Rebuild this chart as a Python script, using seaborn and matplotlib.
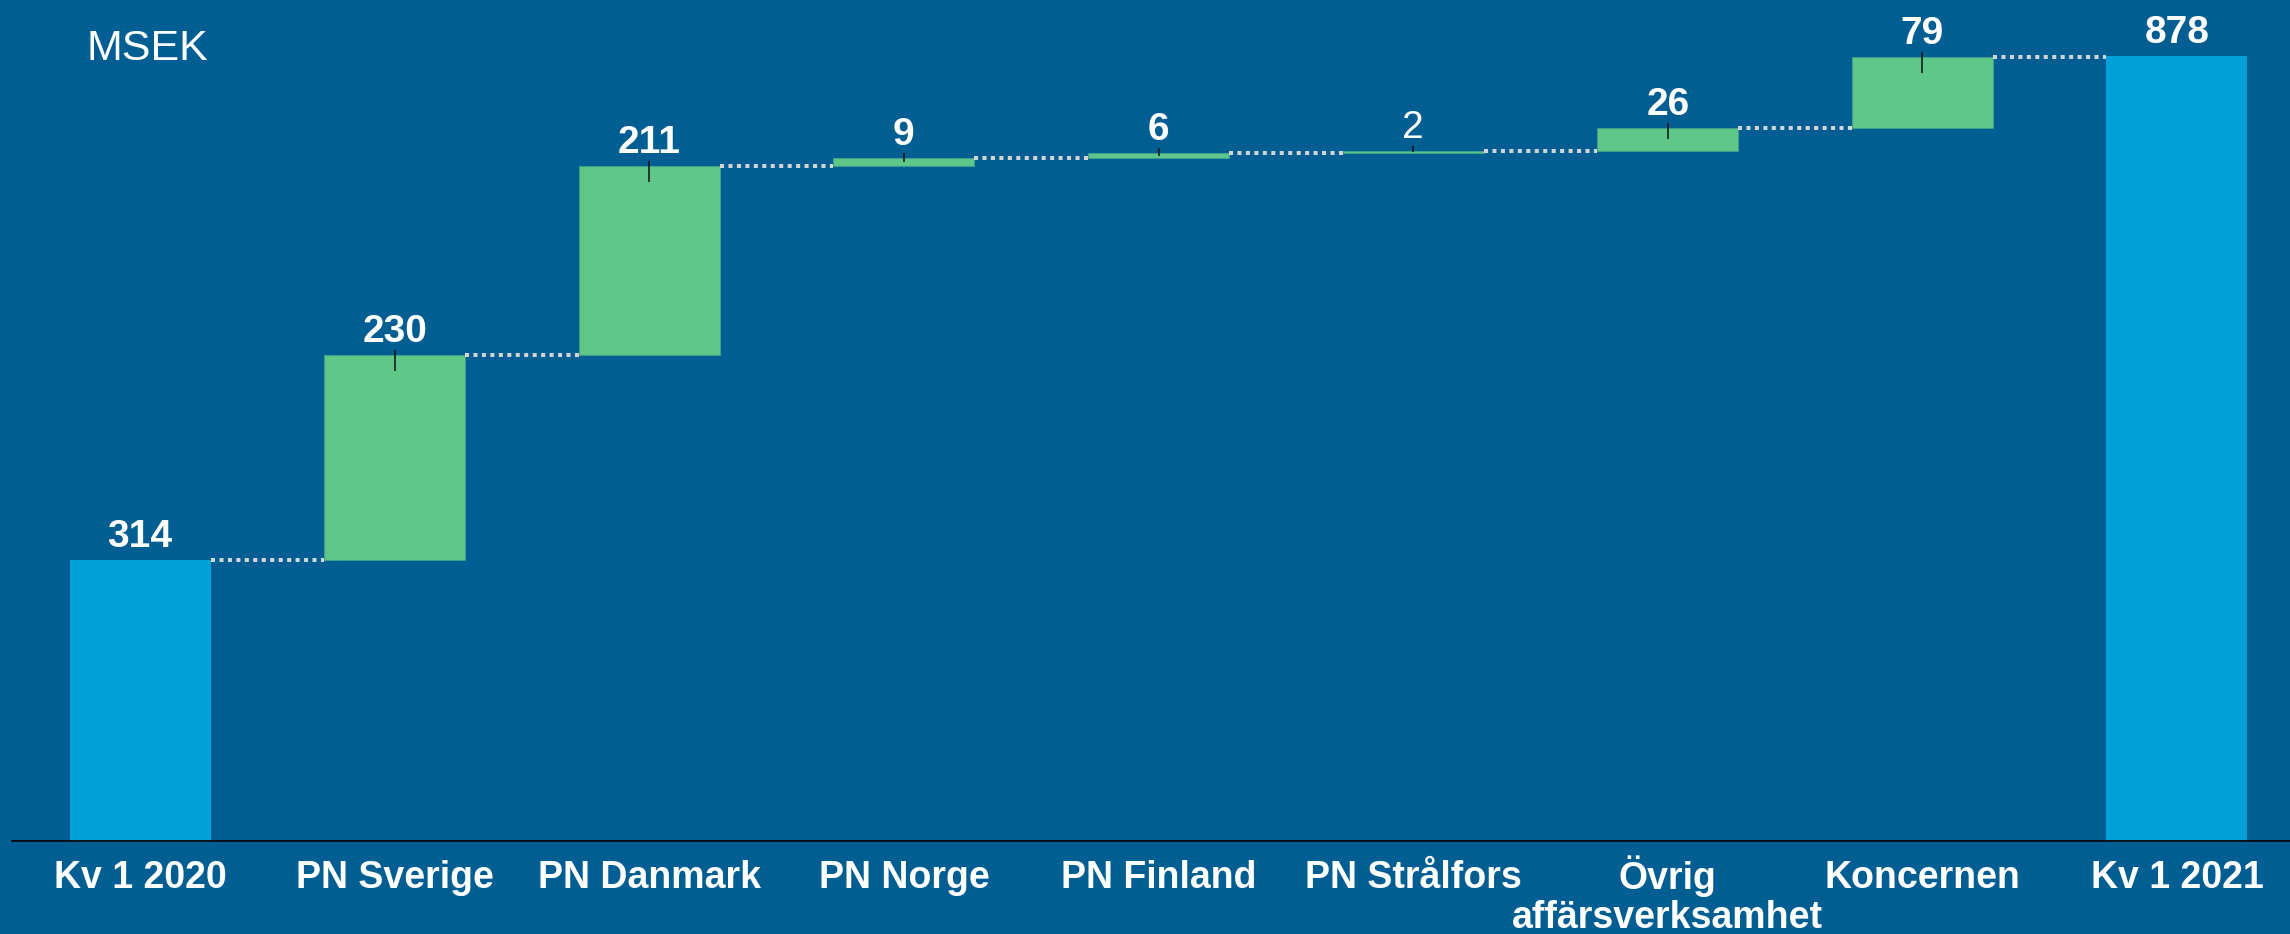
import numpy as np
import pandas as pd
import matplotlib
matplotlib.use('Agg')
import matplotlib.pyplot as plt
import matplotlib.transforms as mtransforms
import seaborn as sns

# waterfall: quarterly result bridge, MSEK
categories = ['Kv 1 2020', 'PN Sverige', 'PN Danmark', 'PN Norge', 'PN Finland',
              'PN Strålfors', 'Övrig\naffärsverksamhet', 'Koncernen', 'Kv 1 2021']
start_value = 314
end_value = 878
delta_names = categories[1:-1]
delta_values = [230, 211, 9, 6, 2, 26, 79]
label_bold = [True, True, True, True, True, False, True, True, True]

bg = '#005E93'
total_color = '#00A0D8'
delta_color = '#5FC787'

plt.rcParams['font.family'] = ['Liberation Sans', 'DejaVu Sans']

cum = np.cumsum([start_value] + delta_values)
bases = cum[:-1]

totals_df = pd.DataFrame({'cat': [categories[0], categories[-1]],
                          'val': [start_value, end_value]})
deltas_df = pd.DataFrame({'cat': delta_names, 'val': delta_values})

fig = plt.figure(figsize=(22.9, 9.34), dpi=100)
fig.set_facecolor(bg)
ax = fig.add_axes([12 / 2290, 93 / 934, 2278 / 2290, 841 / 934])
ax.set_facecolor(bg)

w = 0.554
sns.barplot(data=totals_df, x='cat', y='val', order=categories, color=total_color,
            saturation=1, width=w, errorbar=None, linewidth=0, ax=ax)
sns.barplot(data=deltas_df, x='cat', y='val', order=categories, color=delta_color,
            saturation=1, width=w, errorbar=None, bottom=bases,
            edgecolor='#3E9E8E', linewidth=0.8, ax=ax)

# dotted connectors between bars
levels = list(cum)
for i, lev in enumerate(levels):
    ax.plot([i + w / 2, i + 1 - w / 2], [lev, lev], color='#D4D4D4',
            linewidth=2.9, linestyle=(0, (1, 1.1)), dash_capstyle='butt', zorder=1)

# small dark marks on top of the change bars
for j, v in enumerate(delta_values):
    top = cum[j + 1]
    ax.plot([j + 1, j + 1], [top + 5.5, top - min(18, 0.5 * v)], color='#111111',
            linewidth=1.1, zorder=4, solid_capstyle='butt')

# value labels
tops = [start_value] + list(cum[1:]) + [end_value]
values = [start_value] + delta_values + [end_value]
for i, (t, v) in enumerate(zip(tops, values)):
    ax.annotate(str(v), (i, t), xytext=(0, 9.4), textcoords='offset points',
                ha='center', va='baseline', color='white', fontsize=28,
                fontweight='bold' if label_bold[i] else 'normal')

ax.set_xlim(-0.503, 8.444)
ax.set_ylim(0, 941)
ax.set_xlabel('')
ax.set_ylabel('')
ax.set_yticks([])
for s in ['top', 'right', 'left']:
    ax.spines[s].set_visible(False)
ax.spines['bottom'].set_color('black')
ax.spines['bottom'].set_linewidth(1.2)
ax.tick_params(axis='x', length=0, pad=33.5, colors='white', labelsize=27)
for lab in ax.get_xticklabels():
    lab.set_fontweight('bold')
    lab.set_linespacing(1.1)
    lab.set_verticalalignment('baseline')
    if '\n' in lab.get_text():
        # baseline is of the last line, push it down one line
        shift = mtransforms.ScaledTranslation(0, -0.40, fig.dpi_scale_trans)
        lab.set_transform(lab.get_transform() + shift)

fig.text(86 / 2290, 1 - 60 / 934, 'MSEK', color='white', fontsize=31,
         ha='left', va='baseline')

fig.savefig('out.png', dpi=100, facecolor=bg)
